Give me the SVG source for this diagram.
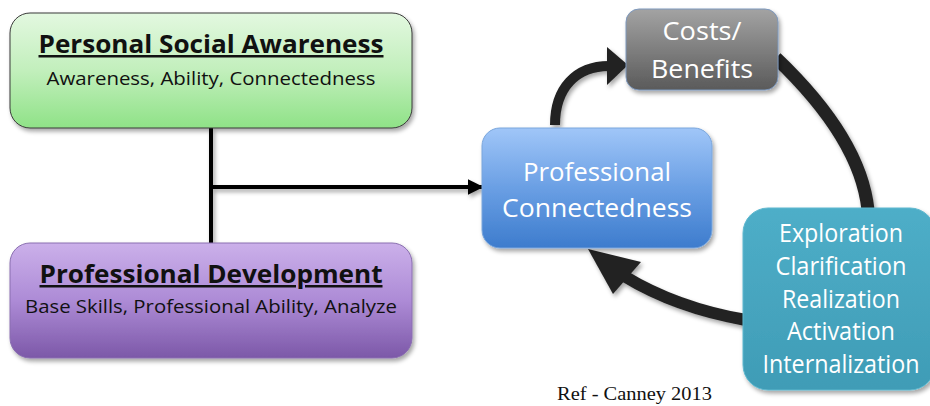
<svg xmlns="http://www.w3.org/2000/svg" width="930" height="406" viewBox="0 0 930 406">
<defs>
<linearGradient id="gGreen" x1="0" y1="0" x2="0" y2="1"><stop offset="0" stop-color="#e3f8e0"/><stop offset="0.5" stop-color="#c2efbc"/><stop offset="1" stop-color="#8fe287"/></linearGradient>
<linearGradient id="gPurple" x1="0" y1="0" x2="0" y2="1"><stop offset="0" stop-color="#cbb0ea"/><stop offset="0.5" stop-color="#ad8bd6"/><stop offset="1" stop-color="#7c58a8"/></linearGradient>
<linearGradient id="gBlue" x1="0" y1="0" x2="0" y2="1"><stop offset="0" stop-color="#a0c6f8"/><stop offset="0.5" stop-color="#6a9fe4"/><stop offset="1" stop-color="#3d7ccd"/></linearGradient>
<linearGradient id="gGrey" x1="0" y1="0" x2="0" y2="1"><stop offset="0" stop-color="#a3a3a3"/><stop offset="1" stop-color="#5a5a5a"/></linearGradient>
<linearGradient id="gTeal" x1="0" y1="0" x2="0" y2="1"><stop offset="0" stop-color="#4eaec8"/><stop offset="1" stop-color="#3f9cb6"/></linearGradient>
<filter id="sh" x="-10%" y="-10%" width="130%" height="130%"><feDropShadow dx="2" dy="3" stdDeviation="2" flood-color="#000" flood-opacity="0.35"/></filter>
<marker id="arrSmall" viewBox="0 0 10 10" refX="9" refY="5" markerWidth="4" markerHeight="4" orient="auto" markerUnits="strokeWidth"><path d="M0,0 L10,5 L0,10 z" fill="#000"/></marker>
</defs>
<style>
.cal{font-family:"Open Sans","Liberation Sans",sans-serif;}
.title{font-size:25px;font-weight:bold;fill:#111;text-decoration:underline;}
.sub{font-size:18px;fill:#111;}
.wt{font-size:25px;fill:#fff;}
.box{filter:url(#sh);}
.conn{fill:none;stroke:#000;stroke-width:4;}
.big{fill:none;stroke:#222;stroke-linecap:butt;}
.head{fill:#222;}
</style>

<g id="connectors" filter="url(#sh)">
<line class="conn" x1="211" y1="128" x2="211" y2="244"/>
<line class="conn" x1="209" y1="187" x2="482" y2="187" marker-end="url(#arrSmall)"/>
<path class="big" stroke-width="10" d="M555,125 C555,88 576,66 609,66"/>
<polygon class="head" points="607,47 628,65 607,85"/>
<path class="big" stroke-width="13" d="M776,58 C818,98 862,152 868,210"/>
<path class="big" stroke-width="12" d="M746,320 C700,312 660,298 624,276"/>
<polygon class="head" points="588,249 641,262 613,294"/>
</g>

<g id="personal-social-awareness">
<rect class="box" x="10" y="13" width="402" height="115" rx="20" fill="url(#gGreen)" stroke="#3a3a3a" stroke-width="1"/>
<text class="cal title" x="211" y="53" text-anchor="middle" textLength="345" lengthAdjust="spacingAndGlyphs">Personal Social Awareness</text>
<text class="cal sub" x="211" y="85" text-anchor="middle" textLength="329" lengthAdjust="spacingAndGlyphs">Awareness, Ability, Connectedness</text>
</g>

<g id="professional-development">
<rect class="box" x="10" y="243" width="402" height="115" rx="20" fill="url(#gPurple)" stroke="#8a6fb0" stroke-width="1"/>
<text class="cal title" x="211" y="283" text-anchor="middle" textLength="343" lengthAdjust="spacingAndGlyphs">Professional Development</text>
<text class="cal sub" x="211" y="313" text-anchor="middle" textLength="372" lengthAdjust="spacingAndGlyphs">Base Skills, Professional Ability, Analyze</text>
</g>

<g id="professional-connectedness">
<rect class="box" x="482" y="128" width="230" height="120" rx="18" fill="url(#gBlue)" stroke="#7aa6dc" stroke-width="1"/>
<text class="cal wt" x="597" y="181" text-anchor="middle" textLength="148" lengthAdjust="spacingAndGlyphs">Professional</text>
<text class="cal wt" x="597" y="217" text-anchor="middle" textLength="190" lengthAdjust="spacingAndGlyphs">Connectedness</text>
</g>

<g id="costs-benefits">
<rect class="box" x="626" y="9" width="152" height="81" rx="13" fill="url(#gGrey)" stroke="#7d98bd" stroke-width="1"/>
<text class="cal wt" x="702" y="40" text-anchor="middle" textLength="79" lengthAdjust="spacingAndGlyphs">Costs/</text>
<text class="cal wt" x="702" y="78" text-anchor="middle" textLength="102" lengthAdjust="spacingAndGlyphs">Benefits</text>
</g>

<g id="stages">
<rect class="box" x="743" y="208" width="192" height="182" rx="25" fill="url(#gTeal)" stroke="#5fb8cf" stroke-width="1"/>
<text class="cal wt" x="841" y="242" text-anchor="middle" textLength="124" lengthAdjust="spacingAndGlyphs">Exploration</text>
<text class="cal wt" x="841" y="275" text-anchor="middle" textLength="131" lengthAdjust="spacingAndGlyphs">Clarification</text>
<text class="cal wt" x="841" y="308" text-anchor="middle" textLength="118" lengthAdjust="spacingAndGlyphs">Realization</text>
<text class="cal wt" x="841" y="340" text-anchor="middle" textLength="108" lengthAdjust="spacingAndGlyphs">Activation</text>
<text class="cal wt" x="841" y="373" text-anchor="middle" textLength="157" lengthAdjust="spacingAndGlyphs">Internalization</text>
</g>

<text x="557" y="400" font-family="'Liberation Serif',serif" font-size="19" fill="#111" textLength="155" lengthAdjust="spacingAndGlyphs">Ref - Canney 2013</text>
</svg>
